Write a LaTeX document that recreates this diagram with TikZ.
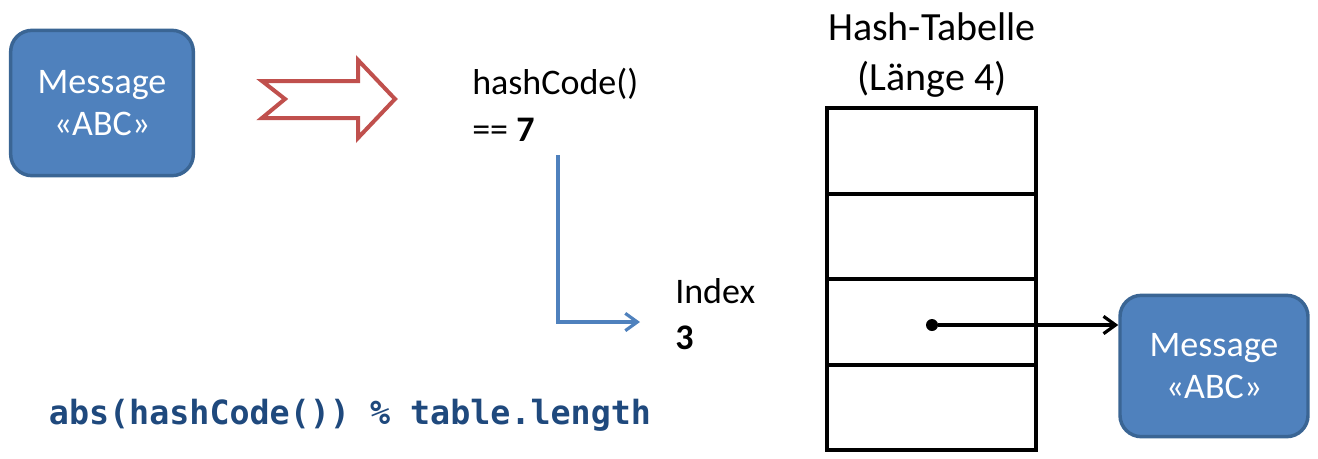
\documentclass[tikz,border=0pt]{standalone}
\usepackage{fontspec}
\setmainfont{Carlito}
\newfontfamily\codefont{DejaVu Sans Mono}
\usetikzlibrary{arrows.meta}
\definecolor{boxfill}{HTML}{4F81BD}
\definecolor{boxline}{HTML}{3A6594}
\definecolor{notchred}{HTML}{C0504D}
\definecolor{codeblue}{HTML}{1F497D}
\begin{document}
\begin{tikzpicture}[x=0.75pt,y=-0.75pt,
    msgbox/.style={draw=boxline,fill=boxfill,line width=2.6pt,rounded corners=16pt,
        text=white,align=center,font=\fontsize{27}{32}\selectfont},
    slot/.style={draw,line width=3pt,minimum width=157pt,minimum height=64pt,inner sep=0pt},
    txtlabel/.style={align=left,inner sep=0pt,font=\fontsize{27}{35}\selectfont},
    barb/.style={-{Straight Barb[length=9pt,width=13pt,line width=2.4pt]}}]
    \useasboundingbox (0,0) rectangle (1318,458);

    \node[msgbox,minimum width=137pt,minimum height=109pt] (msgA) at (102,103) {Message\\«ABC»};
    \node[msgbox,minimum width=141pt,minimum height=106pt] (msgB) at (1214,366) {Message\\«ABC»};

    \draw[notchred,line width=3pt,miter limit=10]
        (262,81) -- (358,81) -- (358,60) -- (395,99) -- (358,138) -- (358,118)
        -- (262,118) -- (285,99) -- cycle;

    \node[txtlabel,anchor=north west] (hash) at (472,68) {hashCode()\\== \textbf{7}};
    \node[txtlabel,anchor=north west] (idx) at (675,278) {Index\\\textbf{3}};
    \node[align=center,inner sep=0pt,font=\fontsize{30}{37}\selectfont] (title) at (932,55) {Hash-Tabelle\\(Länge 4)};

    \node[slot] (slot0) at (931.5,151) {};
    \node[slot] (slot1) at (931.5,236.5) {};
    \node[slot] (slot2) at (931.5,322) {};
    \node[slot] (slot3) at (931.5,407.5) {};

    \coordinate (lstart) at (558,155);
    \coordinate (lend) at (640,322);
    \draw[boxfill,line width=3pt,barb] (lstart) |- (lend);

    \node[circle,fill,inner sep=0pt,minimum size=9pt] (dot) at (932,325) {};
    \draw[line width=2.6pt,barb] (dot) -- (dot -| msgB.west);

    \node[text=codeblue,font=\codefont\bfseries\fontsize{25}{30}\selectfont] (code) at (350,415)
        {abs(hashCode()) \% table.length};
\end{tikzpicture}
\end{document}
